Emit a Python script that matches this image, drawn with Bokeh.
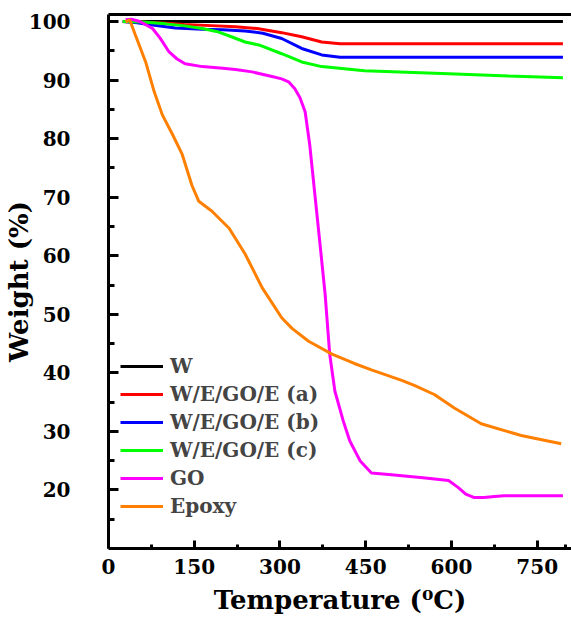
from bokeh.plotting import figure
from bokeh.models import Range1d, LinearAxis, FixedTicker, Legend, LegendItem
from bokeh.embed import file_html
from bokeh.resources import INLINE

# ---- data ----
w_x = [25, 795]
w_y = [100.0, 100.0]

a_x = [25, 50, 100, 133, 180, 222, 260, 303, 338, 373, 405, 500, 650, 795]
a_y = [100.0, 99.9, 99.7, 99.5, 99.3, 99.1, 98.8, 98.1, 97.4, 96.5, 96.2, 96.2, 96.2, 96.2]

b_x = [25, 50, 77, 117, 164, 200, 239, 270, 303, 338, 373, 405, 500, 650, 795]
b_y = [100.0, 99.8, 99.4, 98.9, 98.7, 98.6, 98.4, 98.0, 97.1, 95.4, 94.3, 93.9, 93.9, 93.9, 93.9]

c_x = [25, 60, 100, 130, 164, 193, 215, 239, 263, 303, 338, 373, 448, 595, 700, 795]
c_y = [100.0, 99.9, 99.6, 99.3, 98.8, 98.2, 97.4, 96.5, 96.0, 94.5, 93.1, 92.3, 91.6, 91.1, 90.7, 90.4]

go_x = [30, 40, 55, 77, 90, 106, 120, 134, 164, 200, 222, 251, 286, 303, 315, 326, 335,
        344, 352, 361, 370, 379, 387, 396, 410, 422, 440, 460, 495, 550, 595, 612, 625,
        640, 657, 675, 692, 750, 795]
go_y = [100.3, 100.4, 100.0, 98.8, 97.2, 94.8, 93.6, 92.8, 92.3, 92.0, 91.8, 91.4, 90.6,
        90.2, 89.7, 88.5, 87.0, 84.6, 79.0, 70.5, 62.0, 53.4, 43.2, 36.9, 32.0, 28.4, 25.0,
        22.9, 22.6, 22.1, 21.6, 20.4, 19.3, 18.7, 18.7, 18.9, 19.0, 19.0, 19.0]

ep_x = [30, 37, 47, 65, 80, 94, 112, 129, 146, 158, 181, 211, 239, 269, 303, 321, 350,
        391, 430, 460, 513, 536, 570, 605, 652, 722, 792]
ep_y = [99.9, 100.3, 97.7, 93.1, 88.0, 84.1, 80.7, 77.3, 72.0, 69.3, 67.6, 64.7, 60.3,
        54.5, 49.4, 47.6, 45.4, 43.2, 41.6, 40.5, 38.7, 37.8, 36.3, 34.0, 31.3, 29.3, 27.9]

series_names = ["W", "W/E/GO/E (a)", "W/E/GO/E (b)", "W/E/GO/E (c)", "GO", "Epoxy"]
series_colors = ["#000000", "#FF0000", "#0000FF", "#00FF00", "#FF00FF", "#FF8000"]

x_ticks = [0, 150, 300, 450, 600, 750]
x_minor = [75, 225, 375, 525, 675, 800]
y_ticks = [20, 30, 40, 50, 60, 70, 80, 90, 100]
y_minor = [15, 25, 35, 45, 55, 65, 75, 85, 95]

FONT = "DejaVu Serif"

p = figure(width=571, height=626, output_backend="svg", toolbar_location=None,
           x_range=Range1d(0, 810), y_range=Range1d(10, 101.2),
           min_border_left=106, min_border_right=0, min_border_top=14, min_border_bottom=78)
p.outline_line_color = None
p.xgrid.visible = False
p.ygrid.visible = False
p.background_fill_color = "white"
p.border_fill_color = "white"

series = [(w_x, w_y), (a_x, a_y), (b_x, b_y), (c_x, c_y), (go_x, go_y), (ep_x, ep_y)]
renderers = []
for (xs, ys), col in zip(series, series_colors):
    r = p.line(xs, ys, line_color=col, line_width=3)
    renderers.append(r)

for ax in (p.xaxis[0], p.yaxis[0]):
    ax.axis_line_width = 3
    ax.major_tick_line_width = 3
    ax.minor_tick_line_width = 3
    ax.major_tick_out = 0
    ax.minor_tick_out = 0
    ax.major_label_text_font = FONT
    ax.major_label_text_font_style = "bold"
    ax.major_label_text_font_size = "20px"
    ax.major_label_text_color = "black"
    ax.axis_label_text_font = FONT
    ax.axis_label_text_font_style = "bold"
    ax.axis_label_text_font_size = "26px"
    ax.axis_label_text_color = "black"

p.xaxis[0].ticker = FixedTicker(ticks=x_ticks, minor_ticks=x_minor)
p.xaxis[0].major_tick_in = 8
p.xaxis[0].minor_tick_in = 4
p.xaxis[0].major_label_standoff = 10
p.xaxis[0].axis_label = "Temperature (\u2070C)"
p.xaxis[0].axis_label_standoff = 8

p.yaxis[0].ticker = FixedTicker(ticks=y_ticks, minor_ticks=y_minor)
p.yaxis[0].major_tick_in = 10
p.yaxis[0].minor_tick_in = 6
p.yaxis[0].major_label_standoff = 38
p.yaxis[0].axis_label = "Weight (%)"
p.yaxis[0].axis_label_standoff = -8

top = LinearAxis(ticker=FixedTicker(ticks=[]), axis_line_width=3,
                 major_tick_in=0, major_tick_out=0, minor_tick_in=0, minor_tick_out=0,
                 major_label_text_font_size="0px", major_label_standoff=0)
p.add_layout(top, "above")

legend = Legend(items=[LegendItem(label=n, renderers=[r]) for n, r in zip(series_names, renderers)],
                location=(12, 30), padding=0, margin=0, spacing=4,
                glyph_width=43, glyph_height=20, label_height=20, label_standoff=7,
                label_text_font=FONT, label_text_font_style="bold", label_text_font_size="20px",
                border_line_color=None, background_fill_alpha=0)
p.add_layout(legend)

open("out.html", "w").write(file_html(p, INLINE))
